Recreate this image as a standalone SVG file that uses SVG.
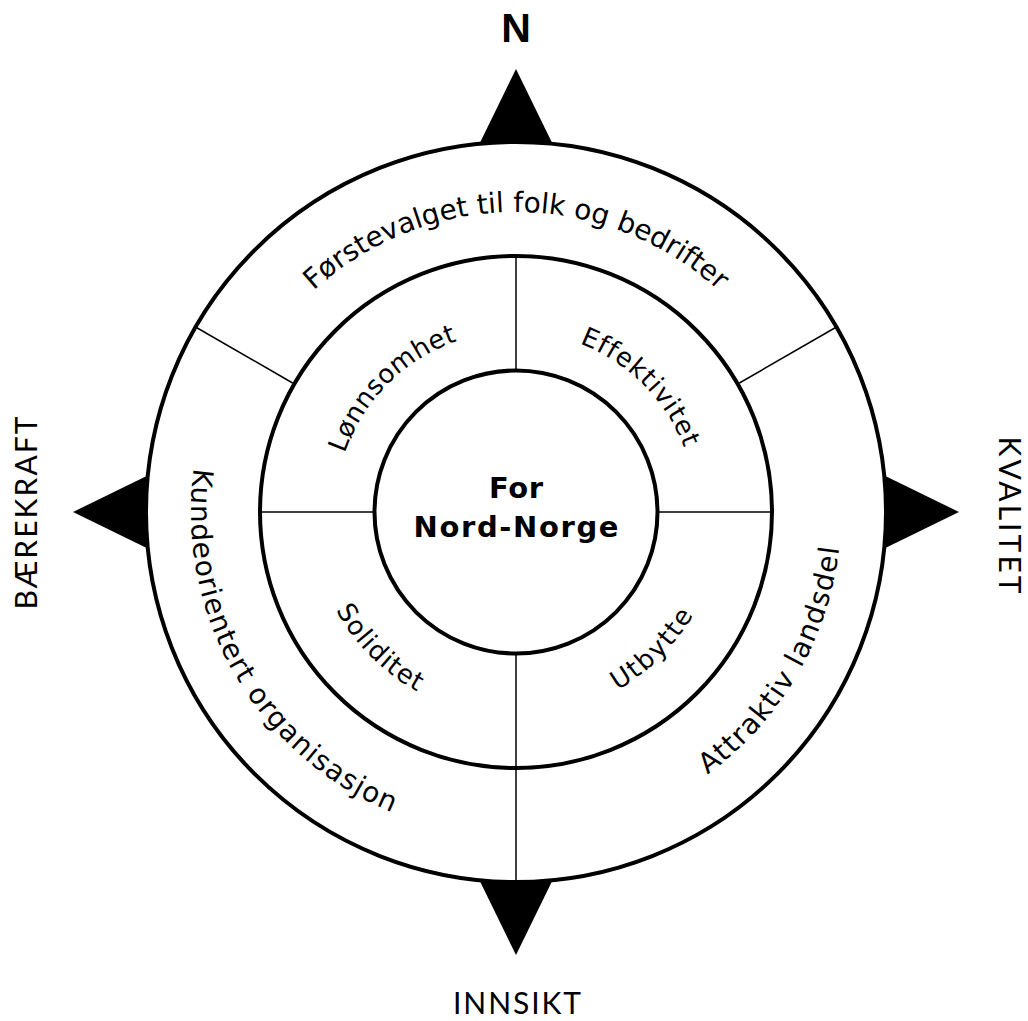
<svg xmlns="http://www.w3.org/2000/svg" xmlns:xlink="http://www.w3.org/1999/xlink" width="1028" height="1021" viewBox="0 0 1028 1021">
<style>
.ring{fill:#fff;stroke:#000;stroke-width:4}
.div{stroke:#000;stroke-width:1.5;fill:none}
.tri{fill:#000}
.ot{font-family:"DejaVu Sans","Liberation Sans",sans-serif;font-size:28px;fill:#000}
.it{font-family:"DejaVu Sans","Liberation Sans",sans-serif;font-size:26px;fill:#000}
.dir{font-family:Lato,"Liberation Sans",sans-serif;font-weight:400;font-size:30px;fill:#000}
.ctr{font-family:"DejaVu Sans","Liberation Sans",sans-serif;font-weight:bold;font-size:29px;fill:#000}
</style>
<defs>
<path id="pTop" d="M 256.2 362 A 300 300 0 0 1 775.8 362"/>
<path id="pLeft" d="M 234.5 349.5 A 325 325 0 0 0 516 837"/>
<path id="pRight" d="M 516 837 A 325 325 0 0 0 797.5 349.5"/>
<path id="pTL" d="M 335 512 A 181 181 0 0 1 516 331"/>
<path id="pTR" d="M 516 332 A 180 180 0 0 1 696 512"/>
<path id="pBL" d="M 311 512 A 205 205 0 0 0 516 717"/>
<path id="pBR" d="M 516 717 A 205 205 0 0 0 721 512"/>
</defs>
<rect width="1028" height="1021" fill="#fff"/>
<g id="compass">
<polygon class="tri" points="516,69 473,157 559,157"/>
<polygon class="tri" points="516,955 473,867 559,867"/>
<polygon class="tri" points="73,512 161,469 161,555"/>
<polygon class="tri" points="959,512 871,469 871,555"/>
<text x="516" y="42" text-anchor="middle" style="font-family:'Liberation Sans',sans-serif;font-weight:bold;font-size:41px">N</text>
<text class="dir" x="517" y="1014" text-anchor="middle" textLength="128" lengthAdjust="spacing">INNSIKT</text>
<text class="dir" transform="translate(37,513) rotate(-90)" x="0" y="0" text-anchor="middle" textLength="193" lengthAdjust="spacing">BÆREKRAFT</text>
<text class="dir" transform="translate(999,515) rotate(90)" x="0" y="0" text-anchor="middle" textLength="157" lengthAdjust="spacing">KVALITET</text>
</g>
<g id="rings">
<circle class="ring" cx="516" cy="512" r="370"/>
<circle class="ring" cx="516" cy="512" r="256"/>
<circle class="ring" cx="516" cy="512" r="141.5"/>
</g>
<g id="connectors">
<line class="div" x1="292.6" y1="383" x2="196.4" y2="327.5"/>
<line class="div" x1="739.4" y1="383" x2="835.6" y2="327.5"/>
<line class="div" x1="516" y1="653.5" x2="516" y2="882"/>
<line class="div" x1="516" y1="256" x2="516" y2="370.5"/>
<line class="div" x1="260" y1="512" x2="374.5" y2="512"/>
<line class="div" x1="657.5" y1="512" x2="772" y2="512"/>
</g>
<g id="outer-top"><text class="ot" text-anchor="middle"><textPath href="#pTop" xlink:href="#pTop" startOffset="50%">Førstevalget til folk og bedrifter</textPath></text></g>
<g id="outer-left"><text class="ot" text-anchor="middle" letter-spacing="1.2"><textPath href="#pLeft" xlink:href="#pLeft" startOffset="50%">Kundeorientert organisasjon</textPath></text></g>
<g id="outer-right"><text class="ot" text-anchor="middle" letter-spacing="1.3"><textPath href="#pRight" xlink:href="#pRight" startOffset="50%">Attraktiv landsdel</textPath></text></g>
<g id="inner-tl"><text class="it" text-anchor="middle" letter-spacing="0.4"><textPath href="#pTL" xlink:href="#pTL" startOffset="50%">Lønnsomhet</textPath></text></g>
<g id="inner-tr"><text class="it" text-anchor="middle" letter-spacing="0.9"><textPath href="#pTR" xlink:href="#pTR" startOffset="50%">Effektivitet</textPath></text></g>
<g id="inner-bl"><text class="it" text-anchor="middle" letter-spacing="1.2"><textPath href="#pBL" xlink:href="#pBL" startOffset="50%">Soliditet</textPath></text></g>
<g id="inner-br"><text class="it" text-anchor="middle" letter-spacing="1.8"><textPath href="#pBR" xlink:href="#pBR" startOffset="50%">Utbytte</textPath></text></g>
<g id="center">
<text class="ctr" x="516" y="498" text-anchor="middle" textLength="54" lengthAdjust="spacing">For</text>
<text class="ctr" x="516" y="537" text-anchor="middle" textLength="205" lengthAdjust="spacing">Nord-Norge</text>
</g>
</svg>
